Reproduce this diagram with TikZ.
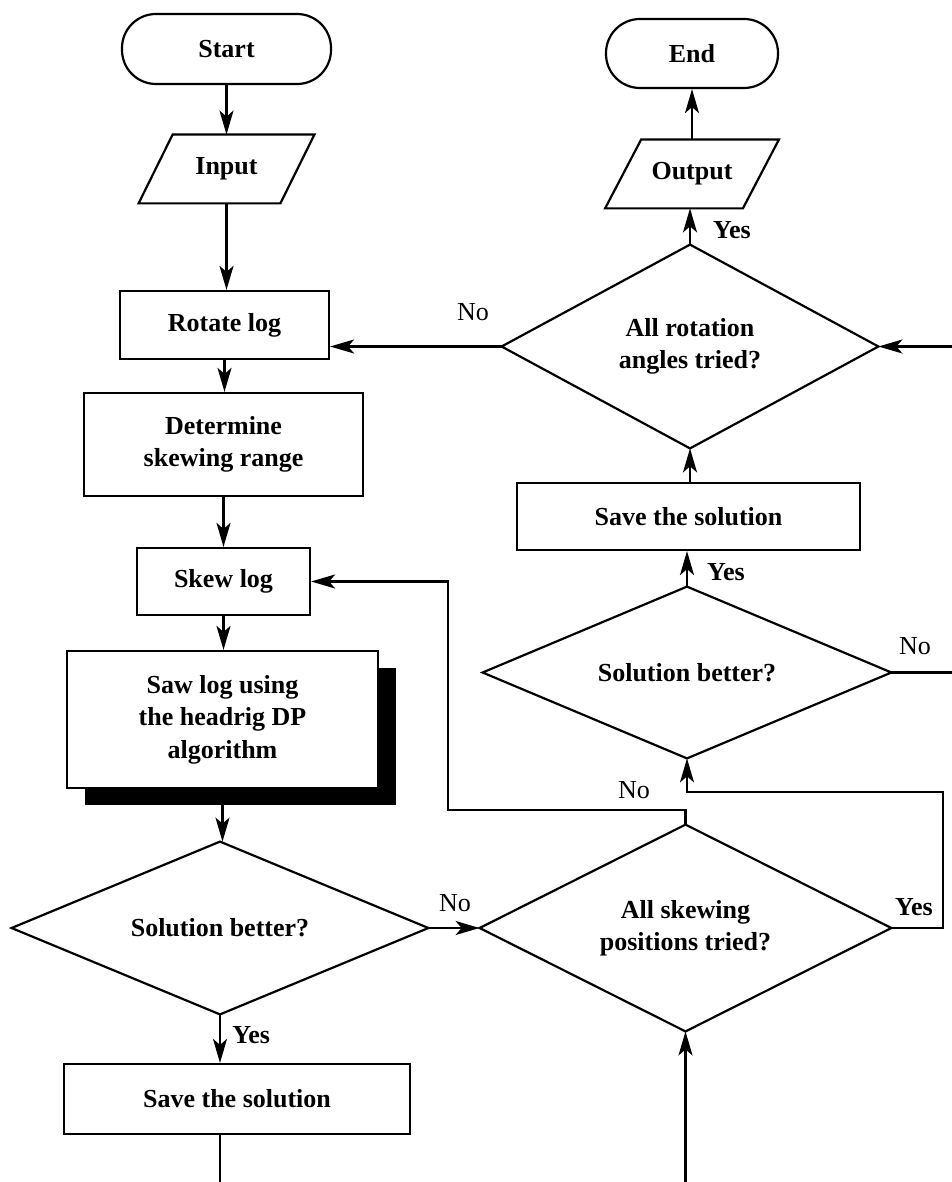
\documentclass[tikz,border=0pt]{standalone}
\usepackage{fontspec}
\setmainfont{Liberation Serif}
\usetikzlibrary{arrows.meta,shadows}
\begin{document}
\begin{tikzpicture}[x=0.5pt,y=-0.5pt,
  every node/.style={font=\fontsize{13}{16.2}\selectfont\bfseries, align=center, inner sep=0pt},
  conn/.style={line width=1.1pt},
  arr/.style={line width=1.1pt,-{Stealth[length=12pt,width=7pt,inset=3pt]}},
  procbox/.style={draw, line width=1.1pt, fill=white},
  termbox/.style={draw, line width=1.1pt, rounded corners=17pt},
  iobox/.style={draw=none},
  decbox/.style={draw=none},
  nolab/.style={font=\fontsize{13}{16}\selectfont},
  yeslab/.style={font=\fontsize{13}{16}\selectfont\bfseries}
]
\useasboundingbox (0,0) rectangle (952,1182);

% left column
\node[termbox, minimum width=104.5pt, minimum height=35pt] (start) at (226.5,49) {Start};
\node[iobox, minimum width=70.5pt, minimum height=34pt] (input) at (226.5,169) {Input};
\draw[conn] ([xshift=8.5pt]input.north west) -- ([xshift=8.5pt]input.north east)
  -- ([xshift=-8.5pt]input.south east) -- ([xshift=-8.5pt]input.south west) -- cycle;
\node[procbox, minimum width=104.5pt, minimum height=34pt] (rotate) at (224.5,325) {Rotate log};
\node[procbox, minimum width=139.5pt, minimum height=51.5pt] (determine) at (223.5,444.5) {Determine\\skewing range};
\node[procbox, minimum width=86.5pt, minimum height=33.5pt] (skew) at (223.5,581.5) {Skew log};
\node[procbox, minimum width=155.5pt, minimum height=68.5pt,
  general shadow={shadow xshift=9pt, shadow yshift=-8.5pt, fill=black}] (saw) at (222.5,719.5)
  {Saw log using\\the headrig DP\\algorithm};
\node[decbox, minimum width=208pt, minimum height=86pt] (sb1) at (220,928) {Solution better?};
\draw[conn] (sb1.north) -- (sb1.east) -- (sb1.south) -- (sb1.west) -- cycle;
\node[procbox, minimum width=173pt, minimum height=35pt] (save1) at (237,1099) {Save the solution};

% right column
\node[termbox, minimum width=86pt, minimum height=34.5pt] (end) at (692,53.5) {End};
\node[iobox, minimum width=68.5pt, minimum height=34pt] (output) at (692,174) {Output};
\draw[conn] ([xshift=9pt]output.north west) -- ([xshift=9pt]output.north east)
  -- ([xshift=-9pt]output.south east) -- ([xshift=-9pt]output.south west) -- cycle;
\node[decbox, minimum width=188pt, minimum height=101.5pt] (rd) at (690,346.5) {All rotation\\angles tried?};
\draw[conn] (rd.north) -- (rd.east) -- (rd.south) -- (rd.west) -- cycle;
\node[procbox, minimum width=171.5pt, minimum height=33.5pt] (save2) at (688.5,516.5) {Save the solution};
\node[decbox, minimum width=204pt, minimum height=85.5pt] (sb2) at (687,672.5) {Solution better?};
\draw[conn] (sb2.north) -- (sb2.east) -- (sb2.south) -- (sb2.west) -- cycle;
\node[decbox, minimum width=205.5pt, minimum height=103pt] (as) at (685.5,928) {All skewing\\positions tried?};
\draw[conn] (as.north) -- (as.east) -- (as.south) -- (as.west) -- cycle;

% helper coordinates: picture edges and bends
\coordinate (xr) at (952,0);
\coordinate (yb) at (0,1182);
\coordinate (bendNo) at (448,810);
\coordinate (bendYes) at (943,792);

% connectors, left column
\draw[arr] (start.south) -- (start.south |- input.north);
\draw[arr] (input.south) -- (input.south |- rotate.north);
\draw[arr] (rotate.south) -- (rotate.south |- determine.north);
\draw[arr] (determine.south) -- (determine.south |- skew.north);
\draw[arr] (skew.south) -- (skew.south |- saw.north);
\draw[arr] (saw.south) -- (saw.south |- sb1.north);
\draw[arr] (sb1.south) -- (sb1.south |- save1.north);
\node[yeslab, anchor=west] at (232,1035) {Yes};
\draw[conn] (sb1.south |- save1.south) -- (sb1.south |- yb);
\draw[arr] (sb1.east) -- (as.west);
\node[nolab] at (455,903) {No};

% connectors, right column
\draw[arr] (as.south |- yb) -- (as.south);
\draw[arr] (as.north) |- (bendNo) |- (skew.east);
\node[nolab] at (634,790) {No};
\draw[arr] (as.east) -| (bendYes) -| (sb2.south);
\node[yeslab] at (914,907) {Yes};
\draw[arr] (sb2.north) -- (sb2.north |- save2.south);
\node[yeslab] at (726,572) {Yes};
\draw[conn] (sb2.east) -- (sb2.east -| xr);
\node[nolab] at (915,646) {No};
\draw[arr] (save2.north -| rd.south) -- (rd.south);
\draw[arr] (rd.east -| xr) -- (rd.east);
\draw[arr] (rd.west) -- (rd.west -| rotate.east);
\node[nolab] at (473,312) {No};
\draw[arr] (rd.north) -- (rd.north |- output.south);
\node[yeslab] at (732,230) {Yes};
\draw[arr] (output.north) -- (output.north |- end.south);
\end{tikzpicture}
\end{document}
